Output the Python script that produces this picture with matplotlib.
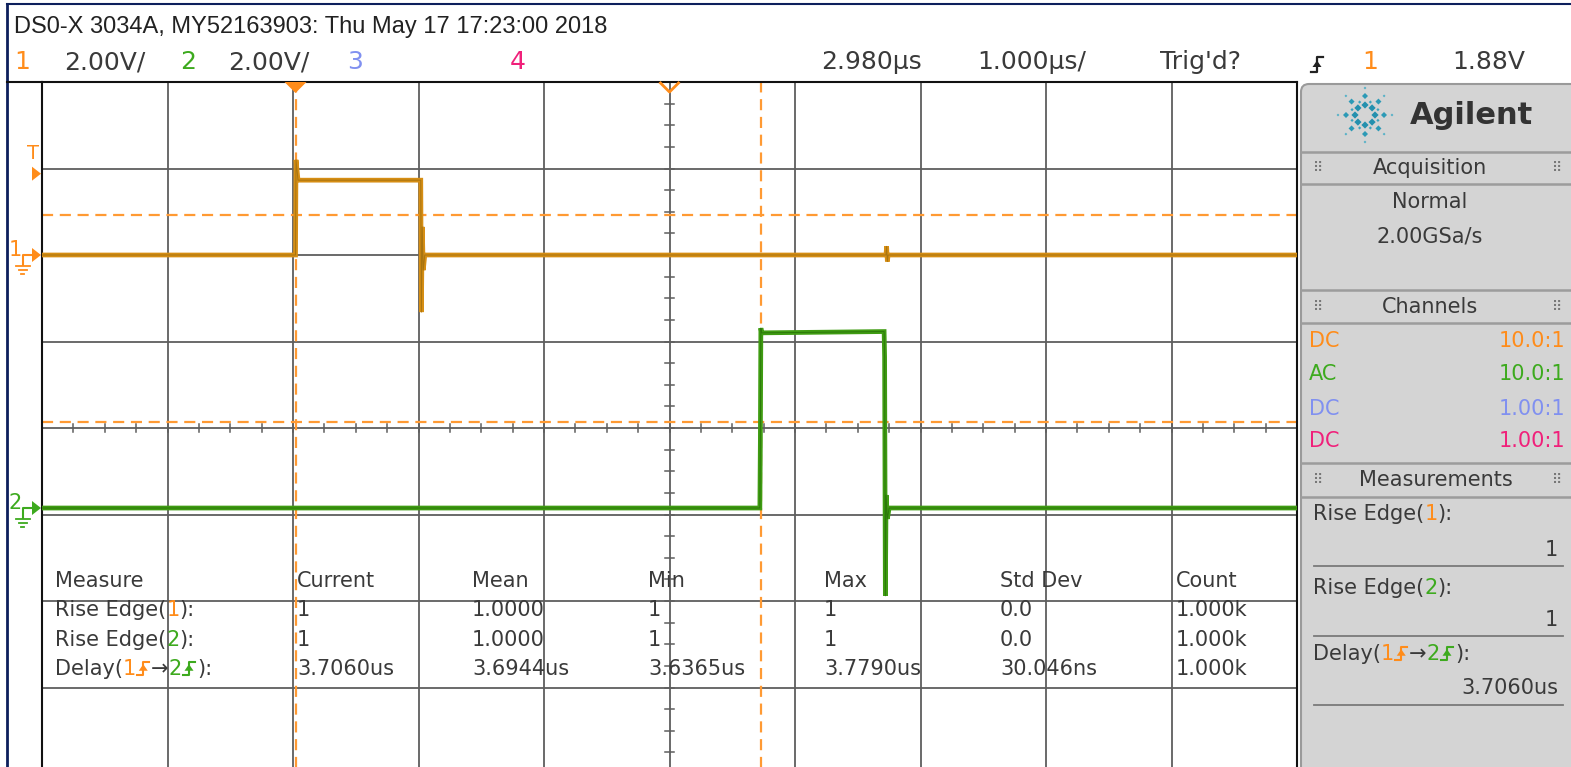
import matplotlib
matplotlib.use("Agg")
import math
import matplotlib.pyplot as plt
from matplotlib.transforms import Affine2D
from matplotlib.patches import Polygon, FancyBboxPatch
from matplotlib.lines import Line2D

# ---------------- data ----------------
title_text = "DS0-X 3034A, MY52163903: Thu May 17 17:23:00 2018"
ch_numbers = ["1", "2", "3", "4"]
ch_colors = ["#FF8C1A", "#3DAA1E", "#8090F0", "#F0207A"]
ch_scales = ["2.00V/", "2.00V/"]
time_delay_text = "2.980µs"
time_base_text = "1.000µs/"
trig_status = "Trig'd?"
trig_source = "1"
trig_level_text = "1.88V"

volts_per_div = 2.0
time_per_div = 1.0        # µs / div
time_center = 2.98        # µs
ch1_offset_div = 2.0
ch2_offset_div = -0.925
trig_level = 1.88         # V

# traces (time in µs, volts)
ch1_time = [-2.02, 0.000, 0.004, 0.020, 0.998, 1.003, 1.010, 1.018, 1.030,
            4.705, 4.710, 4.716, 4.722, 7.98]
ch1_volt = [0.00, 0.00, 2.20, 1.73, 1.73, -1.32, 0.65, -0.35, 0.00,
            0.00, 0.20, -0.15, 0.00, 0.00]
ch2_time = [-2.02, 3.700, 3.704, 3.708, 3.714, 4.690, 4.694, 4.700, 4.706,
            4.716, 4.730, 7.98]
ch2_volt = [0.00, 0.00, 1.55, 4.16, 4.05, 4.08, 3.50, -2.03, 0.30,
            -0.25, 0.00, 0.00]

cursor_times = [0.0, 3.706]
cursor_level_ch1 = 0.93
cursor_level_ch2 = 2.0

meas_header = ["Measure", "Current", "Mean", "Min", "Max", "Std Dev", "Count"]
meas_current = ["1", "1", "3.7060us"]
meas_mean = ["1.0000", "1.0000", "3.6944us"]
meas_min = ["1", "1", "3.6365us"]
meas_max = ["1", "1", "3.7790us"]
meas_std = ["0.0", "0.0", "30.046ns"]
meas_count = ["1.000k", "1.000k", "1.000k"]

acq_mode = "Normal"
acq_rate = "2.00GSa/s"
coupling = ["DC", "AC", "DC", "DC"]
probe = ["10.0:1", "10.0:1", "1.00:1", "1.00:1"]
side_values = ["1", "1", "3.7060us"]

# ---------------- figure ----------------
W, H = 1571, 767
fig = plt.figure(figsize=(W / 100, H / 100), dpi=100)
fig.patch.set_facecolor("white")
T = Affine2D().scale(1 / W, -1 / H).translate(0, 1) + fig.transFigure
renderer = fig.canvas.get_renderer()

DARK = "#3a3a3a"
TITLEF = ["Liberation Sans", "DejaVu Sans"]
NARROW = ["DejaVu Sans"]
SANS = ["DejaVu Sans"]
ORANGE, GREEN = ch_colors[0], ch_colors[1]
TRACE1, TRACE2 = "#D68E14", "#3F9C12"


def ftext(x, y, s, **kw):
    kw.setdefault("color", DARK)
    kw.setdefault("va", "center")
    return fig.text(x, y, s, transform=T, **kw)


def fline(xs, ys, **kw):
    fig.add_artist(Line2D(xs, ys, transform=T, **kw))


def fpoly(pts, **kw):
    fig.add_artist(Polygon(pts, closed=True, transform=T, **kw))


def edge(x, yb, color, h=13, w=12, lw=1.5):
    xm = x + w / 2
    fline([x, xm, xm, x + w], [yb, yb, yb - h, yb - h], color=color, lw=lw)
    ym = yb - h / 2
    fpoly([[xm - 4.5, ym + 2.5], [xm + 4.5, ym + 2.5], [xm, ym - 4]], color=color, lw=0)


def rich(x, yb, parts, size, family=SANS):
    for s, c in parts:
        if s == "^":
            edge(x + 1, yb, c, h=size * 0.9, w=size * 0.8)
            x += size * 0.8 + 3
            continue
        t = ftext(x, yb, s, color=c, fontsize=size, family=family, va="baseline", ha="left")
        x += t.get_window_extent(renderer).width
    return x


# window borders
fline([7, W], [4, 4], color="#0d1f5c", lw=1.5)
fline([7, 7], [4, H], color="#0d1f5c", lw=2)

# ---------------- header ----------------
ftext(14, 27, title_text, fontsize=17, family=TITLEF, ha="left", color="#222222")
ftext(22, 62, ch_numbers[0], fontsize=18, family=NARROW, ha="center", color=ORANGE)
ftext(64, 62, ch_scales[0], fontsize=18, family=NARROW, ha="left")
ftext(188, 62, ch_numbers[1], fontsize=18, family=NARROW, ha="center", color=GREEN)
ftext(228, 62, ch_scales[1], fontsize=18, family=NARROW, ha="left")
ftext(355, 62, ch_numbers[2], fontsize=18, family=NARROW, ha="center", color=ch_colors[2])
ftext(518, 62, ch_numbers[3], fontsize=18, family=NARROW, ha="center", color=ch_colors[3])
ftext(922, 62, time_delay_text, fontsize=18, family=NARROW, ha="right")
ftext(1086, 62, time_base_text, fontsize=18, family=NARROW, ha="right")
ftext(1160, 62, trig_status, fontsize=18, family=NARROW, ha="left")
edge(1311, 72, "#222222", h=15, w=12, lw=1.6)
ftext(1370, 62, trig_source, fontsize=18, family=NARROW, ha="center", color=ORANGE)
ftext(1525, 62, trig_level_text, fontsize=18, family=NARROW, ha="right")

# ---------------- graticule ----------------
top_px, div_w, div_h, left_px = 82, 125.5, 86.5, 42
right_px = left_px + 10 * div_w
bot_px = top_px + 8 * div_h
ax = fig.add_axes([left_px / W, 1 - bot_px / H, (right_px - left_px) / W, (bot_px - top_px) / H])
t0 = time_center - 5 * time_per_div
t1 = time_center + 5 * time_per_div
ax.set_xlim(t0, t1)
ax.set_ylim(-4, 4)
ax.set_xticks([])
ax.set_yticks([])
for sp in ax.spines.values():
    sp.set_color("#111111")
    sp.set_linewidth(1.5)
for i in range(1, 10):
    ax.axvline(t0 + i * time_per_div, color="#5e5e5e", lw=1.3, zorder=1)
for j in range(-3, 4):
    ax.axhline(j, color="#5e5e5e", lw=1.3, zorder=1)
# minor ticks on centre lines
for k in range(0, 41):
    tx = t0 + k * 0.25 * time_per_div
    ax.plot([tx, tx], [-0.05, 0.05], color="#5e5e5e", lw=1.1, zorder=1)
for k in range(-16, 17):
    ax.plot([time_center - 0.032, time_center + 0.032], [k * 0.25, k * 0.25],
            color="#5e5e5e", lw=1.1, zorder=1)
fline([7, left_px], [top_px, top_px], color="#111111", lw=1.5)

# cursors
for ct in cursor_times:
    ax.axvline(ct, color="#FF9A33", lw=1.6, dashes=(5, 3), zorder=2)
ax.axhline(ch1_offset_div + cursor_level_ch1 / volts_per_div, color="#FF9A33", lw=1.6,
           dashes=(5, 3), zorder=2)
ax.axhline(ch2_offset_div + cursor_level_ch2 / volts_per_div, color="#FF9A33", lw=1.6,
           dashes=(5, 3), zorder=2)

# traces
y1 = [ch1_offset_div + v / volts_per_div for v in ch1_volt]
y2 = [ch2_offset_div + v / volts_per_div for v in ch2_volt]
ax.plot(ch1_time, y1, color=TRACE1, lw=3.4, zorder=3, solid_joinstyle="miter")
ax.plot(ch1_time, y1, color="#A87410", lw=0.7, zorder=3)
ax.plot(ch2_time, y2, color=TRACE2, lw=3.4, zorder=3, solid_joinstyle="miter")
ax.plot(ch2_time, y2, color="#2C780A", lw=0.7, zorder=3)

# top markers
trig_x = left_px + (0 - t0) / time_per_div * div_w
fpoly([[trig_x - 11, top_px], [trig_x + 11, top_px], [trig_x, top_px + 11]], color="#FF8C1A", lw=0)
cen_x = left_px + 5 * div_w
fline([cen_x - 9, cen_x, cen_x + 9], [top_px + 1, top_px + 10, top_px + 1], color="#FF8C1A", lw=2)

# left markers
trig_y = top_px + (4 - (ch1_offset_div + trig_level / volts_per_div)) * div_h
ftext(33, trig_y - 20, "T", fontsize=14, family=SANS, ha="center", color=ORANGE)
fpoly([[32, trig_y - 7], [41, trig_y], [32, trig_y + 7]], color=ORANGE, lw=0)
for num, off, col in [(ch_numbers[0], ch1_offset_div, ORANGE), (ch_numbers[1], ch2_offset_div, GREEN)]:
    gy = top_px + (4 - off) * div_h
    ftext(15, gy - 5, num, fontsize=15, family=NARROW, ha="center", color=col)
    fline([23, 23, 32], [gy + 10, gy, gy], color=col, lw=1.5)
    fpoly([[32, gy - 7], [41, gy], [32, gy + 7]], color=col, lw=0)
    fline([16, 30], [gy + 11, gy + 11], color=col, lw=1.3)
    fline([19, 27], [gy + 15, gy + 15], color=col, lw=1.3)
    fline([21.5, 24.5], [gy + 19, gy + 19], color=col, lw=1.3)

# ---------------- measurement table ----------------
col_x = [55, 297, 472, 648, 824, 1000, 1176]
row_base = [587, 616, 646, 675]
TS = 15
for cx, h in zip(col_x, meas_header):
    ftext(cx, row_base[0], h, fontsize=TS, family=SANS, ha="left", va="baseline", zorder=5)
names = [
    [("Rise Edge(", DARK), ("1", ORANGE), ("):", DARK)],
    [("Rise Edge(", DARK), ("2", GREEN), ("):", DARK)],
    [("Delay(", DARK), ("1", ORANGE), ("^", ORANGE), ("→", DARK), ("2", GREEN), ("^", GREEN), ("):", DARK)],
]
cols = [meas_current, meas_mean, meas_min, meas_max, meas_std, meas_count]
for r in range(3):
    rich(col_x[0], row_base[r + 1], names[r], TS)
    for c, vals in enumerate(cols):
        ftext(col_x[c + 1], row_base[r + 1], vals[r], fontsize=TS, family=SANS, ha="left",
              va="baseline", zorder=5)

# ---------------- right panel ----------------
px0 = 1301
fig.add_artist(FancyBboxPatch((px0, 84), W - px0 + 10, H, boxstyle="round,pad=0,rounding_size=8",
                              transform=T, facecolor="#D4D4D4", edgecolor="#9a9a9a", lw=1.5))
for yy in [152, 184, 290, 323, 463, 497]:
    fline([px0, W], [yy, yy], color="#9c9c9c", lw=1.8)
for yy in [566, 636, 705]:
    fline([1314, 1563], [yy, yy], color="#7a7a7a", lw=1.3)

# logo
cx, cy = 1365, 115
for ang in range(0, 360, 45):
    a = math.radians(ang)
    for r, s, col in [(10, 3.6, "#2490AE"), (19, 3.0, "#2C9AB6"), (27, 1.4, "#4FAFC6")]:
        ex, ey = cx + r * math.cos(a), cy - r * math.sin(a)
        fpoly([[ex - s, ey], [ex, ey - s], [ex + s, ey], [ex, ey + s]], color=col, lw=0)
for ang in range(22, 360, 45):
    a = math.radians(ang + 0.5)
    ex, ey = cx + 14 * math.cos(a), cy - 14 * math.sin(a)
    fpoly([[ex - 1.6, ey], [ex, ey - 1.6], [ex + 1.6, ey], [ex, ey + 1.6]], color="#3BA3BD", lw=0)
ftext(1410, 116, "Agilent", fontsize=22, family=SANS, fontweight="bold", ha="left", color="#333333")

PS = 15
for yy, lab in [(168, "Acquisition"), (307, "Channels"), (480, "Measurements")]:
    ftext(1436 if lab == "Measurements" else 1430, yy, lab, fontsize=PS, family=SANS, ha="center")
    ftext(1318, yy, "⠿", fontsize=10, family=SANS, ha="center", color="#777777")
    ftext(1557, yy, "⠿", fontsize=10, family=SANS, ha="center", color="#777777")
ftext(1430, 202, acq_mode, fontsize=PS, family=SANS, ha="center")
ftext(1430, 237, acq_rate, fontsize=PS, family=SANS, ha="center")
for i, yy in enumerate([341, 374, 409, 441]):
    ftext(1309, yy, coupling[i], fontsize=PS, family=SANS, ha="left", color=ch_colors[i])
    ftext(1565, yy, probe[i], fontsize=PS, family=SANS, ha="right", color=ch_colors[i])
side_names = [
    [("Rise Edge(", DARK), ("1", ORANGE), ("):", DARK)],
    [("Rise Edge(", DARK), ("2", GREEN), ("):", DARK)],
    [("Delay(", DARK), ("1", ORANGE), ("^", ORANGE), ("→", DARK), ("2", GREEN), ("^", GREEN), ("):", DARK)],
]
for nm, yb, vy, val in zip(side_names, [520, 594, 660], [550, 620, 688], side_values):
    rich(1313, yb, nm, PS)
    ftext(1558, vy, val, fontsize=PS, family=SANS, ha="right")

fig.savefig("out.png", dpi=100, facecolor="white")
